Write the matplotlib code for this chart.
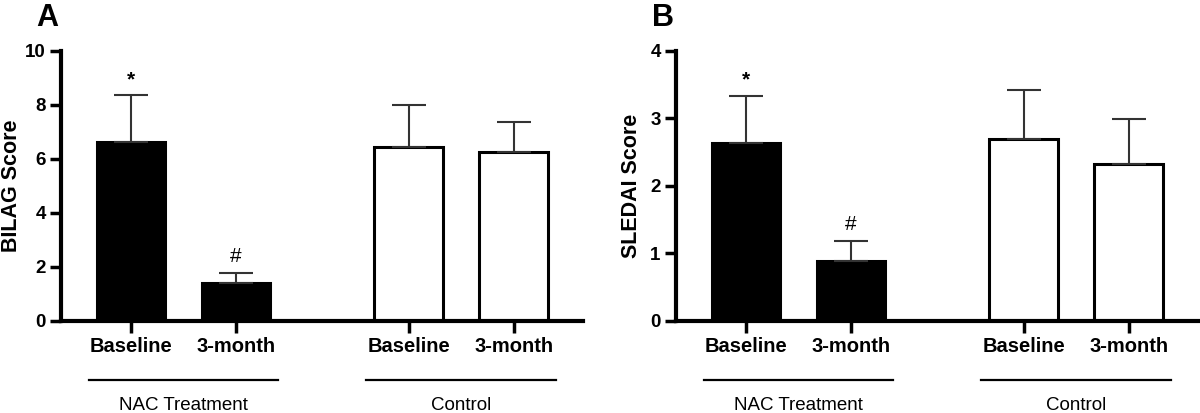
import numpy as np
import matplotlib
matplotlib.use('Agg')
import matplotlib.pyplot as plt

plt.rcParams['font.family'] = ['Liberation Sans', 'DejaVu Sans']

# data
time_labels = ['Baseline', '3-month', 'Baseline', '3-month']
group_names = ['NAC Treatment', 'Control']
bar_colors = ['black', 'black', 'white', 'white']

bilag_mean = [6.63, 1.41, 6.46, 6.25]
bilag_sem = [1.73, 0.38, 1.53, 1.12]
bilag_marks = ['*', '#', '', '']

sledai_mean = [2.63, 0.89, 2.69, 2.32]
sledai_sem = [0.71, 0.30, 0.73, 0.67]
sledai_marks = ['*', '#', '', '']

x = np.array([0, 1, 2.64, 3.64])
group_centers = [0.5, 3.14]


def draw_panel(ax, means, sems, marks, ylabel, ymax, yticks, label_x):
    ax.bar(x, means, width=0.65, color=bar_colors, edgecolor='black',
           linewidth=2.2, zorder=2)
    ax.errorbar(x, means, yerr=[np.zeros(len(sems)), sems], fmt='none',
                ecolor='#333333', elinewidth=1.5, capsize=12, capthick=1.5,
                zorder=3)
    for xi, m, s, mk in zip(x, means, sems, marks):
        if not mk:
            continue
        off = 7 if mk == '*' else 8
        ax.annotate(mk, (xi, m + s), xytext=(0, off), textcoords='offset points',
                    ha='center', va='baseline', fontsize=15,
                    fontweight='bold' if mk == '*' else 'normal')

    ax.set_xlim(-0.667, 4.30)
    ax.set_ylim(0, ymax)
    ax.set_yticks(yticks)
    ax.set_xticks(x)
    ax.set_xticklabels(time_labels, fontsize=14.5, fontweight='bold')
    for t in ax.get_yticklabels():
        t.set_fontsize(13.5)
        t.set_fontweight('bold')
    ax.tick_params(axis='x', direction='out', length=8.5, width=2.5, pad=3)
    ax.tick_params(axis='y', direction='out', length=8, width=2.5, pad=3)

    for side in ['top', 'right']:
        ax.spines[side].set_visible(False)
    for side in ['left', 'bottom']:
        ax.spines[side].set_linewidth(3)

    ax.set_ylabel(ylabel, fontsize=15.5, fontweight='bold')
    ax.yaxis.set_label_coords(label_x, 0.5)

    # group lines under the tick labels
    trans = ax.get_xaxis_transform()
    for gc, name in zip(group_centers, group_names):
        ax.plot([gc - 0.9, gc + 0.9], [-0.2185, -0.2185], color='black',
                lw=1.6, transform=trans, clip_on=False)
        ax.text(gc, -0.33, name, ha='center', va='baseline', fontsize=13.5,
                transform=trans)


fig = plt.figure(figsize=(12, 4.13), dpi=100)
axA = fig.add_axes([0.0508, 0.2228, 0.435, 0.6538])
axB = fig.add_axes([0.5633, 0.2228, 0.435, 0.6538])

draw_panel(axA, bilag_mean, bilag_sem, bilag_marks, 'BILAG Score', 10,
           [0, 2, 4, 6, 8, 10], -0.0738)
draw_panel(axB, sledai_mean, sledai_sem, sledai_marks, 'SLEDAI Score', 4,
           [0, 1, 2, 3, 4], -0.066)

fig.text(36 / 1200, 1 - 3 / 413, 'A', fontsize=22, fontweight='bold',
         ha='left', va='top')
fig.text(652 / 1200, 1 - 3 / 413, 'B', fontsize=22, fontweight='bold',
         ha='left', va='top')

fig.savefig('out.png', dpi=100)
